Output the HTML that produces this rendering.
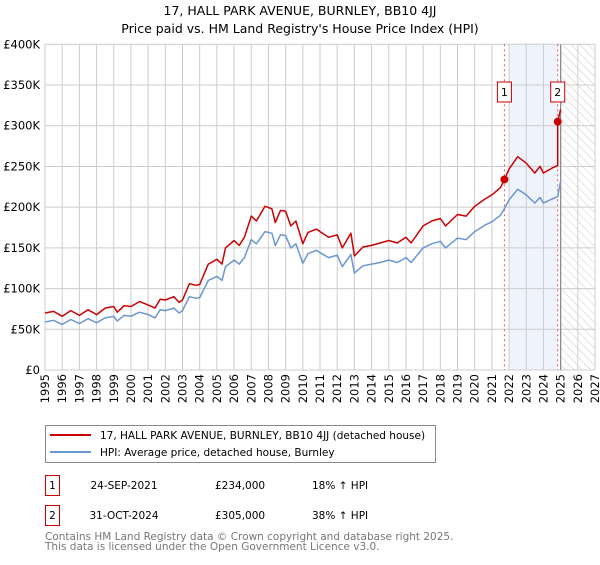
<!DOCTYPE html>
<html><head><meta charset="utf-8"><style>
body{margin:0;background:#fff;}
svg text{font-family:"DejaVu Sans","Liberation Sans",sans-serif;}
</style></head><body>
<svg id="chart" width="600" height="560" xmlns="http://www.w3.org/2000/svg">
<defs><pattern id="hatch" width="6" height="6" patternUnits="userSpaceOnUse" patternTransform="rotate(-45)"><line x1="0" y1="0" x2="0" y2="6" stroke="#ccc" stroke-width="1"/></pattern></defs>
<text x="300" y="15" text-anchor="middle" font-size="12.5">17, HALL PARK AVENUE, BURNLEY, BB10 4JJ</text>
<text x="300" y="33" text-anchor="middle" font-size="12.5">Price paid vs. HM Land Registry's House Price Index (HPI)</text>
<g id="grid"></g>
<g id="marks"></g>
<g id="axes"></g>
<g>
<rect x="45.5" y="425.5" width="390" height="37" fill="#fff" stroke="#888"/>
<line x1="50" y1="435" x2="91" y2="435" stroke="#cc0000" stroke-width="2"/>
<text x="100" y="439" font-size="10.5">17, HALL PARK AVENUE, BURNLEY, BB10 4JJ (detached house)</text>
<line x1="50" y1="452" x2="91" y2="452" stroke="#6a96d2" stroke-width="2"/>
<text x="100" y="456" font-size="10.5">HPI: Average price, detached house, Burnley</text>
</g>
<g font-size="10.5">
<rect x="45.5" y="475.5" width="14" height="20" fill="#fff" stroke="#cc0000"/>
<text x="52.5" y="489" text-anchor="middle">1</text>
<text x="124" y="489" text-anchor="middle">24-SEP-2021</text>
<text x="215" y="489">£234,000</text>
<text x="312" y="489">18% ↑ HPI</text>
<rect x="45.5" y="505.5" width="14" height="20" fill="#fff" stroke="#cc0000"/>
<text x="52.5" y="519" text-anchor="middle">2</text>
<text x="124" y="519" text-anchor="middle">31-OCT-2024</text>
<text x="215" y="519">£305,000</text>
<text x="312" y="519">38% ↑ HPI</text>
</g>
<text x="45" y="540" font-size="10.5" fill="#777">Contains HM Land Registry data © Crown copyright and database right 2025.</text>
<text x="45" y="550" font-size="10.5" fill="#777">This data is licensed under the Open Government Licence v3.0.</text>
</svg>
<script>
const hpiYears=[1995,1995.5,1996,1996.5,1997,1997.5,1998,1998.5,1999,1999.2,1999.6,2000,2000.5,2001,2001.4,2001.7,2002,2002.5,2002.8,2003,2003.4,2003.8,2004,2004.5,2005,2005.3,2005.5,2006,2006.3,2006.6,2007,2007.3,2007.8,2008.2,2008.4,2008.7,2009,2009.3,2009.6,2010,2010.3,2010.8,2011,2011.5,2012,2012.3,2012.8,2013,2013.5,2014,2014.5,2015,2015.5,2016,2016.3,2017,2017.5,2018,2018.3,2019,2019.5,2020,2020.6,2021,2021.5,2021.73,2022,2022.5,2023,2023.5,2023.8,2024,2024.5,2024.83,2025.0];
const hpiValues=[59,61,56,62,57,63,58,64,66,60,67,66,71,68,64,74,73,76,70,73,90,88,89,110,115,110,127,135,130,138,160,155,170,168,153,166,165,150,155,131,143,147,144,138,141,127,142,119,128,130,132,135,132,138,132,150,155,158,150,162,160,170,178,182,190,198,209,222,215,205,212,205,210,213,232];
const priceYears=[1995,1995.5,1996,1996.5,1997,1997.5,1998,1998.5,1999,1999.2,1999.6,2000,2000.5,2001,2001.4,2001.7,2002,2002.5,2002.8,2003,2003.4,2003.8,2004,2004.5,2005,2005.3,2005.5,2006,2006.3,2006.6,2007,2007.3,2007.8,2008.2,2008.4,2008.7,2009,2009.3,2009.6,2010,2010.3,2010.8,2011,2011.5,2012,2012.3,2012.8,2013,2013.5,2014,2014.5,2015,2015.5,2016,2016.3,2017,2017.5,2018,2018.3,2019,2019.5,2020,2020.6,2021,2021.5,2021.73,2022,2022.5,2023,2023.5,2023.8,2024,2024.5,2024.83,2024.83,2025.0];
const priceValues=[70,72,66,73,67,74,68,76,78,71,79,78,84,80,76,87,86,90,83,86,106,104,105,130,136,130,150,159,153,163,189,183,201,198,181,196,195,177,183,155,169,173,170,163,166,150,168,140,151,153,156,159,156,163,156,177,183,186,177,191,189,201,210,215,224,234,247,262,254,242,250,242,248,251,305,320];
const saleYears=[2021.73,2024.83];
const saleValues=[234,305];
const saleLabels=["1","2"];
const yTicks=[0,50,100,150,200,250,300,350,400];
const yTickLabels=["£0","£50K","£100K","£150K","£200K","£250K","£300K","£350K","£400K"];
const xTicks=[1995,1996,1997,1998,1999,2000,2001,2002,2003,2004,2005,2006,2007,2008,2009,2010,2011,2012,2013,2014,2015,2016,2017,2018,2019,2020,2021,2022,2023,2024,2025,2026,2027];

const NS="http://www.w3.org/2000/svg";
const X0=45,X1=595,Y0=370,Y1=44.3;
const xs=v=>X0+(v-1995)/(2027-1995)*(X1-X0);
const ys=v=>Y0-v/400*(Y0-Y1);
function mk(tag,attrs,parent){const e=document.createElementNS(NS,tag);for(const k in attrs)e.setAttribute(k,attrs[k]);parent.appendChild(e);return e;}
const grid=document.getElementById('grid'),marks=document.getElementById('marks'),axes=document.getElementById('axes');
// shaded region between sales and hatched future
let sh=mk('rect',{x:xs(2022),y:Y1,width:xs(saleYears[1])-xs(2022),height:Y0-Y1,fill:'#eef3fc'},grid);


let ht=mk('rect',{x:xs(2025),y:Y1,width:X1-xs(2025),height:Y0-Y1,fill:'url(#hatch)'},grid);


xTicks.forEach(t=>{
  let l=mk('line',{x1:xs(t),x2:xs(t),y1:Y1,y2:Y0,stroke:'#ccc','stroke-width':1},grid);
  
  
  let tx=mk('text',{x:0,y:0,'font-size':11.5,'text-anchor':'end',transform:`translate(${xs(t)+4},${Y0+4}) rotate(-90)`},axes);
  tx.textContent=t;
  
  
});
yTicks.forEach((t,i)=>{
  let l=mk('line',{x1:X0,x2:X1,y1:ys(t),y2:ys(t),stroke:'#ccc','stroke-width':1},grid);
  
  
  let tx=mk('text',{x:40,y:ys(t)+4,'font-size':11.5,'text-anchor':'end'},axes);
  tx.textContent=yTickLabels[i];
  
  
});
let nowl=mk('line',{x1:xs(2025),x2:xs(2025),y1:Y1,y2:Y0,stroke:'#888','stroke-width':1.2},grid);


saleYears.forEach((s,i)=>{
  let l=mk('line',{x1:xs(s),x2:xs(s),y1:Y1,y2:Y0,stroke:'#e05a5a','stroke-width':1,'stroke-dasharray':'2,3'},grid);
  
  
});
const pts=(xa,va)=>xa.map((x,i)=>xs(x).toFixed(1)+','+ys(va[i]).toFixed(1)).join(' ');
let hp=mk('polyline',{points:pts(hpiYears,hpiValues),fill:'none',stroke:'#6a96d2','stroke-width':1.5,'stroke-linejoin':'round'},marks);


let pp=mk('polyline',{points:pts(priceYears,priceValues),fill:'none',stroke:'#cc0000','stroke-width':1.5,'stroke-linejoin':'round'},marks);


saleYears.forEach((s,i)=>{
  let c=mk('circle',{cx:xs(s),cy:ys(saleValues[i]),r:4,fill:'#cc0000'},marks);
  
  
  let b=mk('rect',{x:xs(s)-7,y:82,width:14,height:20,fill:'#fff',stroke:'#cc0000'},marks);
  
  
  let t=mk('text',{x:xs(s),y:96,'font-size':11,'text-anchor':'middle'},marks);
  t.textContent=saleLabels[i];
  
  
});
</script>
</body></html>
